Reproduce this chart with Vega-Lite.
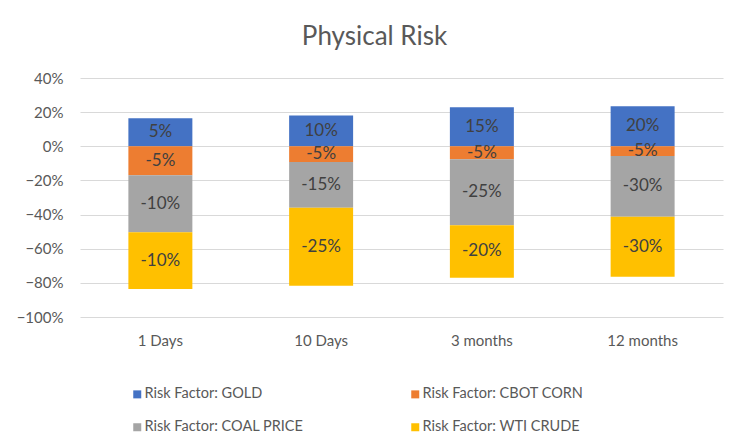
{
  "$schema": "https://vega.github.io/schema/vega-lite/v6.json",
  "autosize": "none",
  "width": 643,
  "height": 239,
  "padding": {"left": 80, "top": 78, "right": 24, "bottom": 129},
  "background": "white",
  "title": {"text": "Physical Risk", "font": "Lato", "fontSize": 26, "fontWeight": "normal", "color": "#595959", "anchor": "middle", "dx": -27, "offset": 21},
  "config": {
    "view": {"stroke": null},
    "font": "Lato"
  },
  "data": {
    "values": [
      {"period": "1 Days", "factor": "Risk Factor: GOLD", "value": 0.164, "label": "5%", "order": 1},
      {"period": "1 Days", "factor": "Risk Factor: CBOT CORN", "value": -0.170, "label": "-5%", "order": 2},
      {"period": "1 Days", "factor": "Risk Factor: COAL PRICE", "value": -0.333, "label": "-10%", "order": 3},
      {"period": "1 Days", "factor": "Risk Factor: WTI CRUDE", "value": -0.333, "label": "-10%", "order": 4},
      {"period": "10 Days", "factor": "Risk Factor: GOLD", "value": 0.181, "label": "10%", "order": 1},
      {"period": "10 Days", "factor": "Risk Factor: CBOT CORN", "value": -0.092, "label": "-5%", "order": 2},
      {"period": "10 Days", "factor": "Risk Factor: COAL PRICE", "value": -0.268, "label": "-15%", "order": 3},
      {"period": "10 Days", "factor": "Risk Factor: WTI CRUDE", "value": -0.457, "label": "-25%", "order": 4},
      {"period": "3 months", "factor": "Risk Factor: GOLD", "value": 0.228, "label": "15%", "order": 1},
      {"period": "3 months", "factor": "Risk Factor: CBOT CORN", "value": -0.076, "label": "-5%", "order": 2},
      {"period": "3 months", "factor": "Risk Factor: COAL PRICE", "value": -0.386, "label": "-25%", "order": 3},
      {"period": "3 months", "factor": "Risk Factor: WTI CRUDE", "value": -0.308, "label": "-20%", "order": 4},
      {"period": "12 months", "factor": "Risk Factor: GOLD", "value": 0.234, "label": "20%", "order": 1},
      {"period": "12 months", "factor": "Risk Factor: CBOT CORN", "value": -0.057, "label": "-5%", "order": 2},
      {"period": "12 months", "factor": "Risk Factor: COAL PRICE", "value": -0.356, "label": "-30%", "order": 3},
      {"period": "12 months", "factor": "Risk Factor: WTI CRUDE", "value": -0.351, "label": "-30%", "order": 4}
    ]
  },
  "transform": [
    {"stack": "value", "groupby": ["period"], "sort": [{"field": "order", "order": "ascending"}], "as": ["v0", "v1"]},
    {"calculate": "(datum.v0 + datum.v1) / 2", "as": "mid"}
  ],
  "encoding": {
    "x": {
      "field": "period", "type": "nominal",
      "sort": ["1 Days", "10 Days", "3 months", "12 months"],
      "scale": {"paddingInner": 0.602, "paddingOuter": 0.301},
      "axis": {"title": null, "labelAngle": 0, "labelFont": "Lato", "labelFontSize": 15, "labelColor": "#595959", "ticks": false, "domain": false, "labelPadding": 16}
    }
  },
  "layer": [
    {
      "mark": {"type": "bar"},
      "encoding": {
        "y": {
          "field": "v1", "type": "quantitative",
          "scale": {"domain": [-1, 0.4], "nice": false},
          "axis": {"title": null, "format": ".0%", "values": [-1, -0.8, -0.6, -0.4, -0.2, 0, 0.2, 0.4], "labelOverlap": false, "labelFont": "Lato", "labelFontSize": 15, "labelColor": "#595959", "ticks": false, "domain": false, "gridColor": "#D9D9D9", "gridWidth": 1, "labelPadding": 17}
        },
        "y2": {"field": "v0"},
        "color": {
          "field": "factor", "type": "nominal",
          "scale": {
            "domain": ["Risk Factor: GOLD", "Risk Factor: COAL PRICE", "Risk Factor: CBOT CORN", "Risk Factor: WTI CRUDE"],
            "range": ["#4472C4", "#A5A5A5", "#ED7D31", "#FFC000"]
          },
          "legend": {
            "title": null, "orient": "none", "legendX": 50, "legendY": 309,
            "columns": 2, "columnPadding": 104, "rowPadding": 18,
            "symbolType": "square", "symbolSize": 64, "symbolStrokeWidth": 0,
            "labelFont": "Lato", "labelFontSize": 14.5, "labelColor": "#595959", "labelOffset": 0, "labelLimit": 0, "padding": 0
          }
        }
      }
    },
    {
      "mark": {"type": "text", "font": "Lato", "fontSize": 17, "color": "#404040", "baseline": "middle"},
      "encoding": {
        "y": {
          "field": "mid", "type": "quantitative",
          "scale": {"domain": [-1, 0.4], "nice": false},
          "axis": {"title": null, "format": ".0%", "values": [-1, -0.8, -0.6, -0.4, -0.2, 0, 0.2, 0.4], "labelOverlap": false, "labelFont": "Lato", "labelFontSize": 15, "labelColor": "#595959", "ticks": false, "domain": false, "gridColor": "#D9D9D9", "gridWidth": 1, "labelPadding": 17}
        },
        "text": {"field": "label", "type": "nominal"}
      }
    }
  ]
}
